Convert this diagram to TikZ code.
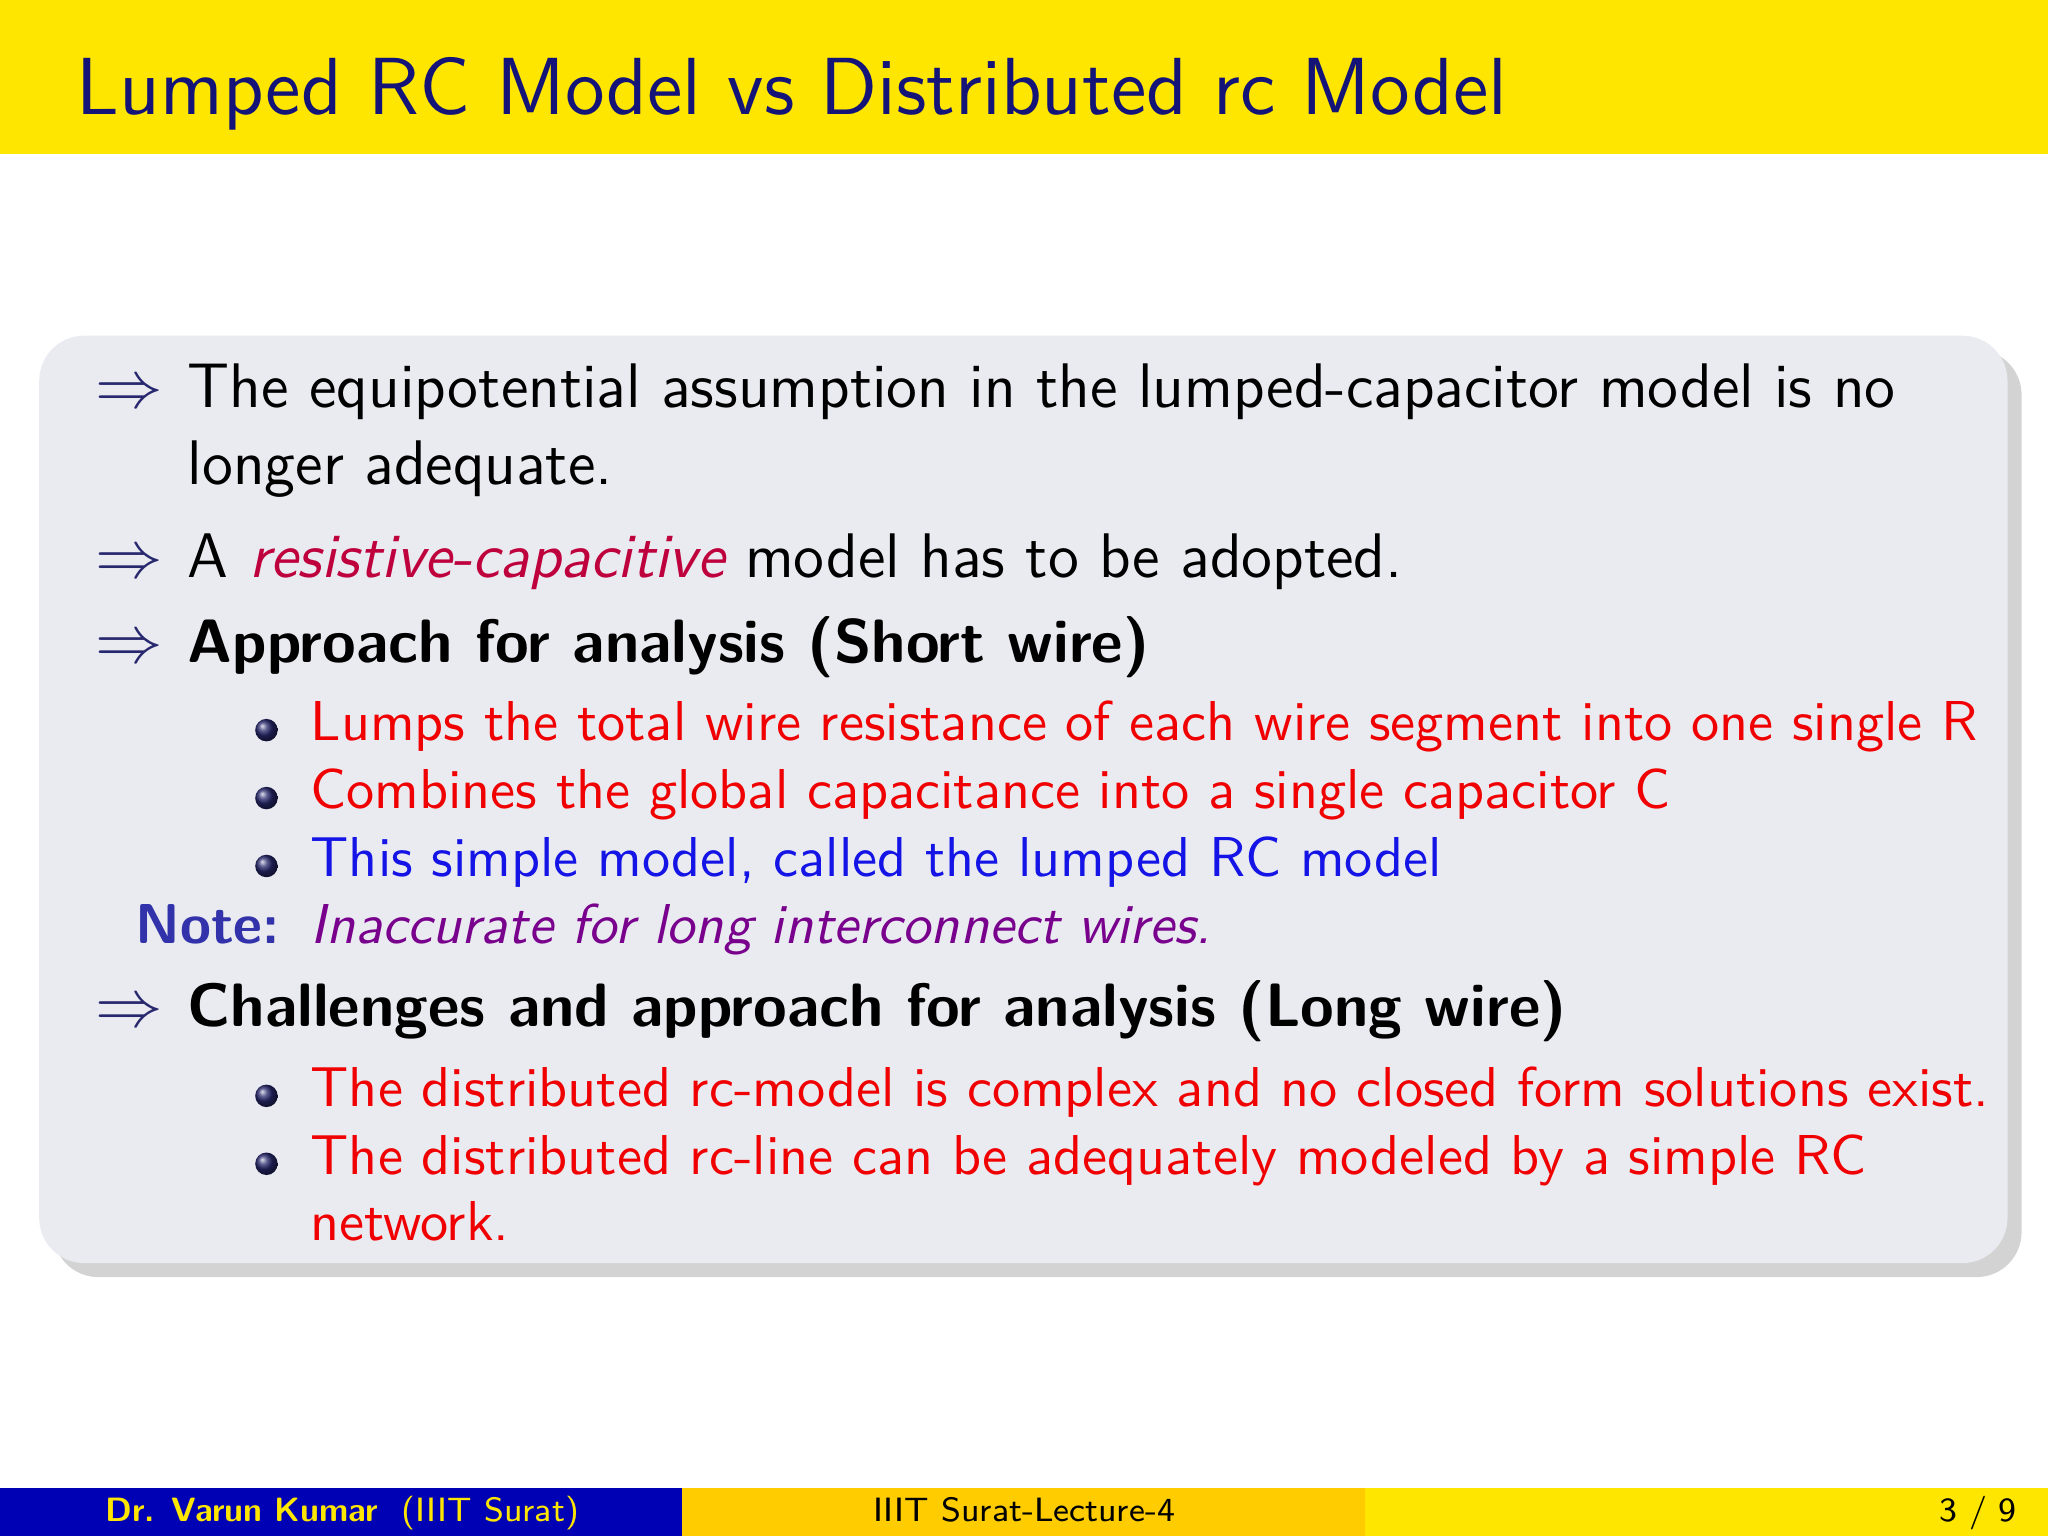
\documentclass[tikz,border=0pt]{standalone}
\usepackage{amssymb}
\usetikzlibrary{shadows}
\definecolor{ttl}{RGB}{255,230,0}
\definecolor{ttltext}{RGB}{20,20,120}
\definecolor{boxbg}{RGB}{234,234,241}
\definecolor{midbar}{RGB}{255,204,0}
\definecolor{lbar}{RGB}{0,0,180}
\definecolor{bul}{RGB}{40,40,110}
\definecolor{rd}{RGB}{240,0,0}
\definecolor{bl}{RGB}{20,20,230}
\definecolor{pu}{RGB}{120,0,140}
\definecolor{mag}{RGB}{190,0,60}
\definecolor{notec}{RGB}{50,50,170}
\begin{document}
\begin{tikzpicture}[x=0.008163cm,y=-0.008163cm,
  txt/.style={anchor=base west,inner sep=0,font=\sffamily\fontsize{11.2}{14}\selectfont},
  sub/.style={anchor=base west,inner sep=0,font=\sffamily\fontsize{10}{13}\selectfont},
  arr/.style={anchor=base west,inner sep=0,text=bul,font=\fontsize{11.5}{14}\selectfont},
  dot/.style={circle,inner sep=0,minimum size=4pt,ball color=bul}]
\useasboundingbox (0,0) rectangle (1568,1176);
\fill[ttl] (0,0) rectangle (1568,118);
\node[anchor=base west,inner sep=0,text=ttltext,font=\sffamily\fontsize{14.4}{18}\selectfont] (title) at (58,88) {Lumped RC Model vs Distributed rc Model};
\fill[boxbg,rounded corners=8pt,drop shadow={shadow xshift=2.5pt,shadow yshift=-2.5pt,opacity=0.35}] (30,257) rectangle (1537,967);
\node[arr] (a1) at (72,312) {$\Rightarrow$};
\node[txt] (t1) at (143,312) {The equipotential assumption in the lumped-capacitor model is no};
\node[txt] (t1b) at (143,371) {longer adequate.};
\node[arr] (a2) at (72,442) {$\Rightarrow$};
\node[txt] (t2) at (143,442) {A \textcolor{mag}{\itshape resistive-capacitive} model has to be adopted.};
\node[arr] (a3) at (72,507) {$\Rightarrow$};
\node[txt,font=\sffamily\bfseries\fontsize{10.9}{14}\selectfont] (t3) at (143,507) {Approach for analysis (Short wire)};
\node[dot] (d1) at (204,559) {};
\node[sub,text=rd] (b1) at (237,567) {Lumps the total wire resistance of each wire segment into one single R};
\node[dot] (d2) at (204,611) {};
\node[sub,text=rd] (b2) at (237,619) {Combines the global capacitance into a single capacitor C};
\node[dot] (d3) at (204,663) {};
\node[sub,text=bl] (b3) at (237,671) {This simple model, called the lumped RC model};
\node[sub,text=notec,font=\sffamily\bfseries\fontsize{10}{13}\selectfont] (nt) at (103,722) {Note:};
\node[sub,text=pu,font=\sffamily\itshape\fontsize{10}{13}\selectfont] (nt2) at (237,722) {Inaccurate for long interconnect wires.};
\node[arr] (a4) at (72,786) {$\Rightarrow$};
\node[txt,font=\sffamily\bfseries\fontsize{10.9}{14}\selectfont] (t4) at (143,786) {Challenges and approach for analysis (Long wire)};
\node[dot] (d4) at (204,839) {};
\node[sub,text=rd] (b4) at (237,847) {The distributed rc-model is complex and no closed form solutions exist.};
\node[dot] (d5) at (204,891) {};
\node[sub,text=rd] (b5) at (237,899) {The distributed rc-line can be adequately modeled by a simple RC};
\node[sub,text=rd] (b5b) at (237,950) {network.};
\fill[lbar] (0,1139) rectangle (522,1176);
\fill[midbar] (522,1139) rectangle (1045,1176);
\fill[ttl] (1045,1139) rectangle (1568,1176);
\node[anchor=base west,inner sep=0,text=ttl,font=\sffamily\fontsize{6}{8}\selectfont] (f1) at (80,1165) {\textbf{Dr. Varun Kumar}\ \ (IIIT Surat)};
\node[anchor=base,inner sep=0,font=\sffamily\fontsize{6}{8}\selectfont] (f2) at (784,1165) {IIIT Surat-Lecture-4};
\node[anchor=base east,inner sep=0,font=\sffamily\fontsize{6}{8}\selectfont] (f3) at (1545,1165) {3 / 9};
\end{tikzpicture}
\end{document}
